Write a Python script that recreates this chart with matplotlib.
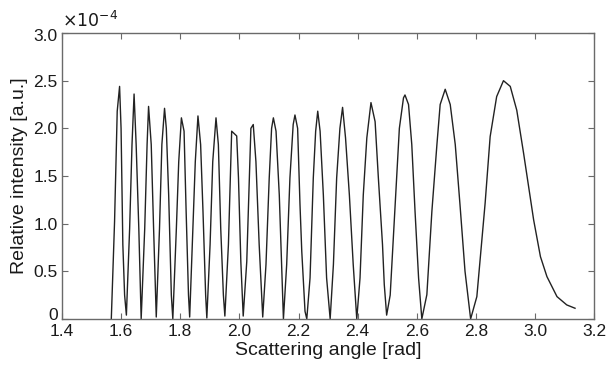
import matplotlib
matplotlib.use("Agg")
import matplotlib.pyplot as plt
import matplotlib.transforms as mtransforms

# Scattering angle [rad] and relative intensity [x1e-4]
angle = [
    1.567, 1.578, 1.587, 1.595, 1.600, 1.606, 1.612,
    1.618, 1.629, 1.637, 1.644, 1.651, 1.660, 1.666,
    1.668, 1.680, 1.688, 1.693, 1.702, 1.710, 1.717,
    1.719, 1.730, 1.738, 1.747, 1.753, 1.761, 1.770,
    1.775, 1.787, 1.795, 1.804, 1.813, 1.820, 1.828,
    1.832, 1.843, 1.851, 1.860, 1.869, 1.877, 1.886,
    1.890, 1.901, 1.910, 1.921, 1.929, 1.937, 1.946,
    1.951, 1.963, 1.971, 1.974, 1.991, 1.997, 2.005,
    2.013, 2.025, 2.034, 2.039, 2.047, 2.056, 2.067,
    2.079, 2.090, 2.101, 2.109, 2.115, 2.124, 2.135, 2.143,
    2.149, 2.160, 2.171, 2.182, 2.188, 2.197, 2.205, 2.211, 2.222,
    2.228, 2.239, 2.250, 2.258, 2.265, 2.273, 2.284, 2.295,
    2.307, 2.318, 2.329, 2.340, 2.349, 2.359, 2.372, 2.385,
    2.397, 2.408, 2.419, 2.431, 2.445, 2.459, 2.470, 2.484, 2.490,
    2.498, 2.510, 2.527, 2.541, 2.555, 2.560, 2.572, 2.583, 2.594, 2.606,
    2.617, 2.634, 2.651, 2.668, 2.679, 2.696, 2.713, 2.730, 2.746, 2.763,
    2.782, 2.803, 2.831, 2.848, 2.870, 2.893, 2.916, 2.938, 2.961, 2.978,
    2.995, 3.018, 3.040, 3.074, 3.107, 3.135,
]
intensity = [
    0.00, 1.02, 2.18, 2.44, 2.00, 0.78, 0.25,
    0.04, 0.95, 1.83, 2.36, 1.83, 0.95, 0.25,
    0.00, 0.95, 1.83, 2.23, 1.83, 0.95, 0.25,
    0.02, 0.95, 1.83, 2.21, 2.00, 1.30, 0.25,
    0.00, 0.95, 1.65, 2.11, 1.97, 1.13, 0.25,
    0.02, 0.95, 1.65, 2.13, 1.83, 1.13, 0.25,
    0.01, 0.78, 1.65, 2.11, 1.83, 0.95, 0.25,
    0.03, 0.78, 1.65, 1.97, 1.92, 1.48, 0.60,
    0.03, 0.60, 1.48, 2.00, 2.04, 1.65, 0.78,
    0.02, 0.57, 1.48, 2.00, 2.11, 1.97, 1.30, 0.57,
    0.00, 0.57, 1.48, 2.04, 2.14, 2.00, 1.20, 0.71, 0.08,
    0.00, 0.43, 1.48, 1.97, 2.18, 1.97, 1.30, 0.43,
    0.00, 0.57, 1.48, 2.00, 2.22, 1.90, 1.30, 0.57,
    0.00, 0.43, 1.30, 1.90, 2.27, 2.07, 1.48, 0.78, 0.36,
    0.04, 0.25, 1.20, 2.00, 2.32, 2.35, 2.25, 1.83, 1.13, 0.43,
    0.00, 0.255, 1.13, 1.83, 2.25, 2.41, 2.25, 1.83, 1.20, 0.50,
    0.00, 0.234, 1.214, 1.913, 2.333, 2.50, 2.44, 2.19, 1.74, 1.39,
    1.04, 0.654, 0.444, 0.234, 0.147, 0.112,
]

xticks = [1.4, 1.6, 1.8, 2.0, 2.2, 2.4, 2.6, 2.8, 3.0, 3.2]
yticks = [0, 0.5, 1.0, 1.5, 2.0, 2.5, 3.0]
ytick_labels = ["0", "0.5", "1.0", "1.5", "2.0", "2.5", "3.0"]

plt.rcParams['font.family'] = ['Liberation Sans', 'DejaVu Sans']

fig = plt.figure(figsize=(6.07, 3.67), dpi=100)
ax = fig.add_axes([0.102, 0.131, 0.877, 0.779])

ax.plot(angle, intensity, color='#222222', lw=1.0)

ax.set_xlim(1.4, 3.2)
ax.set_ylim(0, 3.0)
ax.set_xticks(xticks)
ax.set_xticklabels([f"{t:.1f}" for t in xticks])
ax.set_yticks(yticks)
ax.set_yticklabels(ytick_labels)

axis_col = '#6a6a6a'
for s in ax.spines.values():
    s.set_color(axis_col)
    s.set_linewidth(1.0)
ax.tick_params(direction='in', top=True, right=True, length=4,
               color=axis_col, labelsize=12.5, labelcolor='#1a1a1a', pad=3)
ax.tick_params(axis='x', pad=4)

# nudge the end y tick labels inward, as in the reference
ylabels = ax.get_yticklabels()
ylabels[0].set_transform(ylabels[0].get_transform() +
                         mtransforms.ScaledTranslation(0, 5 / 100, fig.dpi_scale_trans))
ylabels[-1].set_transform(ylabels[-1].get_transform() +
                          mtransforms.ScaledTranslation(0, -2 / 100, fig.dpi_scale_trans))

ax.set_xlabel("Scattering angle [rad]", fontsize=14, color='#1a1a1a', labelpad=2)
ax.set_ylabel("Relative intensity [a.u.]", fontsize=14, color='#1a1a1a', labelpad=4)

ax.text(0.0, 1.01, r"$\times10^{-4}$", transform=ax.transAxes, fontsize=12.5,
        color='#1a1a1a', ha='left', va='bottom')

fig.savefig("out.png", dpi=100)
